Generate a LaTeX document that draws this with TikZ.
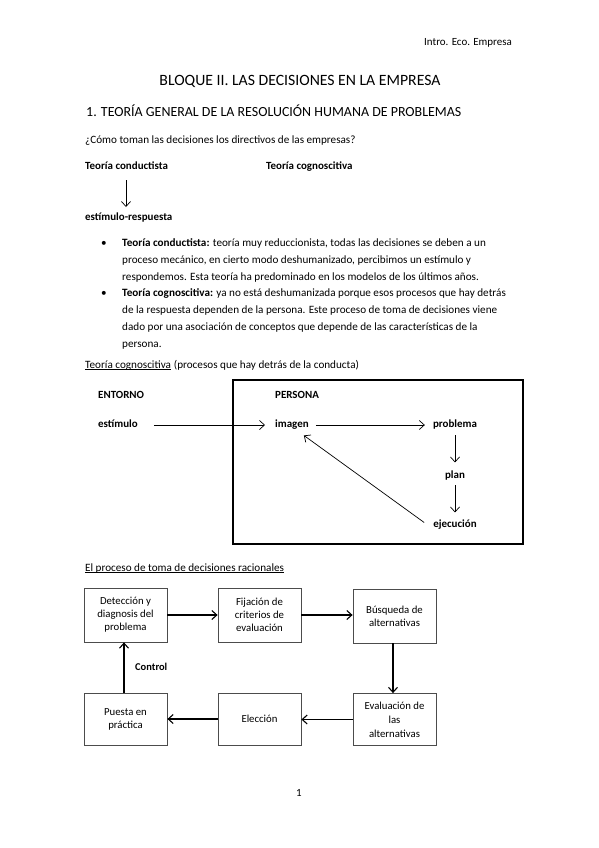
\documentclass[tikz,border=0pt]{standalone}
\usepackage{fontspec}
\setmainfont{Carlito}
\usetikzlibrary{arrows.meta}
\begin{document}
\begin{tikzpicture}[x=1bp,y=-1bp,
  txt/.style={inner sep=0pt,anchor=mid west,font=\fontsize{11.2}{13}\selectfont},
  btxt/.style={txt,font=\fontsize{11}{13}\selectfont\bfseries},
  lbl/.style={inner sep=0pt,font=\fontsize{11}{13}\selectfont\bfseries},
  thinarrow/.style={line width=0.7bp,-{Straight Barb[length=5bp,width=9bp,line width=0.7bp]}},
  flowarrow/.style={line width=1.2bp,-{Straight Barb[length=5bp,width=9bp,line width=1.1bp]}},
  fbox/.style={draw=black!70,line width=0.8bp,minimum width=83bp,align=center,inner sep=0pt,
    font=\fontsize{10.8}{13}\selectfont},
  bigbox/.style={draw,line width=1.7bp,minimum width=290bp,minimum height=164bp,inner sep=0pt}
]
\path[use as bounding box,fill=white] (0,0) rectangle (599,848);

% header
\node[txt,font=\fontsize{11}{12}\selectfont] (hdr) at (424,43) {Intro. Eco. Empresa};
\node[inner sep=0pt,font=\fontsize{15.8}{18}\selectfont] (title) at (300,81) {BLOQUE II. LAS DECISIONES EN LA EMPRESA};
\node[txt,font=\fontsize{14}{16}\selectfont] (sec) at (86,114) {1. TEORÍA GENERAL DE LA RESOLUCIÓN HUMANA DE PROBLEMAS};
\node[txt] (q) at (85,141) {¿Cómo toman las decisiones los directivos de las empresas?};

\node[btxt] (tc) at (85,167) {Teoría conductista};
\node[btxt] (tcog) at (266,167) {Teoría cognoscitiva};
\coordinate (c1) at (126,180);
\coordinate (c2) at (126,207);
\draw[thinarrow] (c1) -- (c2);
\node[btxt] (er) at (85,218) {estímulo-respuesta};

% bullets
\node[txt] (bu1) at (101,244.5) {•};
\node[txt] (l1) at (122,244.5) {\textbf{Teoría conductista:} teoría muy reduccionista, todas las decisiones se deben a un};
\node[txt] (l2) at (122,261.2) {proceso mecánico, en cierto modo deshumanizado, percibimos un estímulo y};
\node[txt] (l3) at (122,277.9) {respondemos. Esta teoría ha predominado en los modelos de los últimos años.};
\node[txt] (bu2) at (101,294.6) {•};
\node[txt] (l4) at (122,294.6) {\textbf{Teoría cognoscitiva:} ya no está deshumanizada porque esos procesos que hay detrás};
\node[txt] (l5) at (122,311.3) {de la respuesta dependen de la persona. Este proceso de toma de decisiones viene};
\node[txt] (l6) at (122,328.0) {dado por una asociación de conceptos que depende de las características de la};
\node[txt] (l7) at (122,344.7) {persona.};

% teoria cognoscitiva heading
\node[txt] (tch) at (85,366) {Teoría cognoscitiva};
\node[txt,anchor=base west] (tch2) at (tch.base east) {\ (procesos que hay detrás de la conducta)};
\draw[line width=0.6bp] ([yshift=-1.3bp]tch.base west) -- ([yshift=-1.3bp]tch.base east);

% cognitive diagram
\node[bigbox] (pbox) at (378,462) {};
\node[lbl,anchor=mid west] (ent) at (98,396) {ENTORNO};
\node[lbl,anchor=mid west] (per) at (275,396) {PERSONA};
\node[lbl,anchor=mid west] (est) at (98,425) {estímulo};
\node[lbl,anchor=mid west] (img) at (275,425) {imagen};
\node[lbl,anchor=mid] (prob) at (455,425) {problema};
\node[lbl,anchor=mid] (plan) at (455,476) {plan};
\node[lbl,anchor=mid] (ejec) at (455,525) {ejecución};
\draw[thinarrow,shorten <=16bp,shorten >=10bp] (est.mid east) -- (img.mid west);
\draw[thinarrow,shorten <=7bp,shorten >=8bp] (img.mid east) -- (prob.mid west);
\draw[thinarrow,shorten <=6bp,shorten >=8bp] (prob.south) -- (plan.north);
\draw[thinarrow,shorten <=5bp,shorten >=7bp] (plan.south) -- (ejec.north);
\draw[thinarrow] ([shift={(-9,-2)}]ejec.west) -- ([shift={(-5,6)}]img.south east);

% rational decision process
\node[txt] (rp) at (85,569) {El proceso de toma de decisiones racionales};
\draw[line width=0.6bp] ([yshift=-1.3bp]rp.base west) -- ([yshift=-1.3bp]rp.base east);

\node[fbox,minimum height=54bp] (b1) at (125.5,615) {Detección y\\diagnosis del\\problema};
\node[fbox,minimum height=54bp] (b2) at (259.5,615) {Fijación de\\criterios de\\evaluación};
\node[fbox,minimum height=54bp] (b3) at (394.5,616) {Búsqueda de\\alternativas};
\node[fbox,minimum height=52bp,font=\fontsize{10.8}{14}\selectfont] (b4) at (394.5,719.5) {Evaluación de\\las\\alternativas};
\node[fbox,minimum height=52bp] (b5) at (259.5,719) {Elección};
\node[fbox,minimum height=52bp] (b6) at (125.5,719) {Puesta en\\práctica};

\draw[flowarrow] (b1.east) -- (b2.west);
\draw[flowarrow] (b2.east) -- (b2.east -| b3.west);
\draw[flowarrow] ([xshift=-1.5bp]b3.south) -- ([xshift=-1.5bp]b4.north);
\draw[flowarrow] (b4.west) -- (b4.west -| b5.east);
\draw[flowarrow] (b5.west) -- (b6.east);
\draw[flowarrow] ([xshift=-1.5bp]b6.north) -- ([xshift=-1.5bp]b1.south);
\node[lbl,anchor=mid west,font=\fontsize{10.5}{12}\selectfont\bfseries] (ctrl) at (135,668) {Control};

% page number
\node[inner sep=0pt,font=\fontsize{11}{13}\selectfont] (pg) at (299,793) {1};
\end{tikzpicture}
\end{document}
